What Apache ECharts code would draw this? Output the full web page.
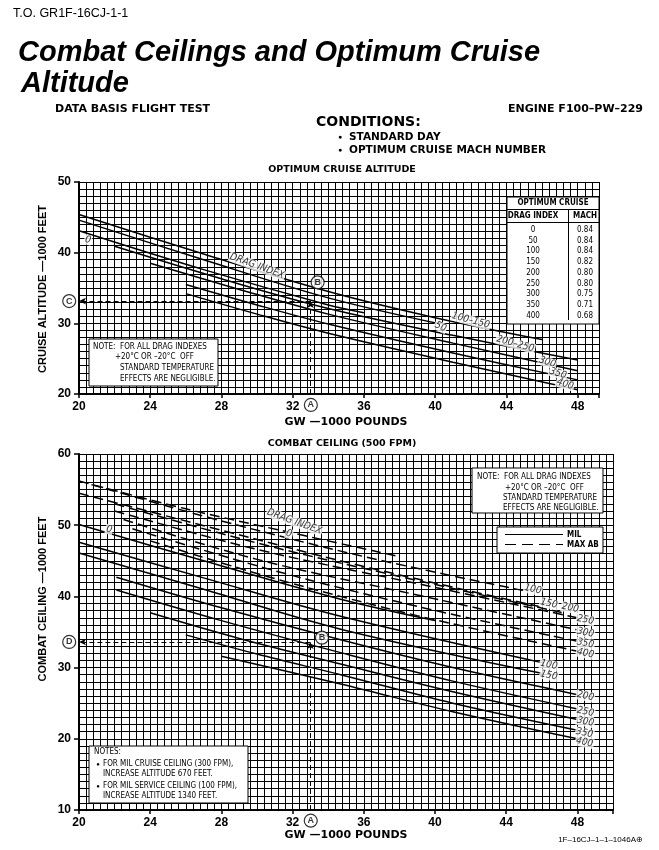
<!DOCTYPE html>
<html><head><meta charset="utf-8">
<script src="https://cdn.jsdelivr.net/npm/echarts@6/dist/echarts.min.js"></script>
<style>html,body{margin:0;padding:0;background:#fff;}#c{width:659px;height:850px;}</style>
</head><body><div id="c"></div>
<script>
// ================= DATA =================
const gwTickLabels = [20, 24, 28, 32, 36, 40, 44, 48];
const cruiseTickLabels = [20, 30, 40, 50];
const ceilingTickLabels = [10, 20, 30, 40, 50, 60];

// Optimum cruise altitude curves: [GW 1000 lb, altitude 1000 ft]
const cruiseDI100_150 = [[20,45.4],[27,39.8],[34,34.5],[40,30.8],[46,27.7]];
const cruiseDI50      = [[20,44.6],[27,39.0],[34,33.6],[40.3,29.9]];
const cruiseDI0       = [[20,43.1],[27,37.6],[34,32.6],[36,31.5]];
const cruiseDI200_250 = [[22,40.9],[28,36.3],[34,32.1],[41,28.3],[48,24.8]];
const cruiseDI300     = [[24,38.5],[29,34.8],[34,31.3],[41,27.2],[48,23.3]];
const cruiseDI350     = [[26,35.5],[30,32.6],[34,29.9],[41,25.8],[48,22.0]];
const cruiseDI400     = [[26,34.2],[30,31.3],[34,28.6],[41,24.5],[48,20.6]];

// Combat ceiling, MIL power (solid)
const milDI0   = [[20,50.1],[27,45.0],[34.7,39.6],[40,36.6]];
const milDI100 = [[20,47.6],[27,42.6],[34.7,37.2],[46,30.7]];
const milDI150 = [[20,46.1],[27,41.0],[34.7,35.4],[46,29.2]];
const milDI200 = [[22.1,42.7],[28,38.4],[34.7,33.9],[41,30.0],[48,26.2]];
const milDI250 = [[22.1,40.9],[28,36.6],[34.7,32.1],[41,28.1],[48,24.2]];
const milDI300 = [[24,37.7],[29,34.1],[34.7,30.5],[41,26.6],[48,22.7]];
const milDI350 = [[26,34.6],[30,31.9],[34.7,29.0],[41,25.0],[48,21.2]];
const milDI400 = [[28,31.6],[34.7,27.7],[41,23.8],[48,20.0]];

// Combat ceiling, MAX AB (dashed)
const abDI0   = [[20,56.2],[26,52.3],[32,48.9],[38,45.6]];
const abDI100 = [[20.7,55.7],[28,50.6],[36,45.6],[45.2,40.7]];
const abDI150 = [[20,54.5],[28,49.3],[36,44.2],[46,38.5]];
const abDI200 = [[22,53.0],[30,47.5],[38,42.8],[47.2,37.7]];
const abDI250 = [[22,52.0],[30,46.6],[39,41.8],[48,37.0]];
const abDI300 = [[22.5,50.8],[30,45.2],[39,40.2],[48,35.3]];
const abDI350 = [[23,49.5],[31,43.6],[39,38.6],[48,33.7]];
const abDI400 = [[24,47.8],[31,42.5],[39,37.3],[48,32.3]];

// Example (guide) readings
const exampleGW = 33.0;
const exampleCruiseAlt = 33.15;
const exampleCeiling = 33.6;

// Optimum cruise Mach table
const tableDragIndex = ['0','50','100','150','200','250','300','350','400'];
const tableMach      = ['0.84','0.84','0.84','0.82','0.80','0.80','0.75','0.71','0.68'];

// Curve labels: [text, GW, value, rotation]
const cruiseLabels = [
  ['0',20.5,41.8,-15],['DRAG INDEX',30.0,38.1,-20],['100\u2013150',42.0,30.4,-15],['50',40.3,29.5,-25],
  ['200\u2013250',44.5,27.1,-15],['300',46.3,24.5,-18],['350',46.9,22.9,-18],['400',47.3,21.4,-18]
];
const ceilingLabels = [
  ['0',21.7,49.4,-15],['DRAG INDEX',32.1,50.5,-20],['0',31.8,48.8,-15],
  ['100',45.5,41.0,-12],['150',46.4,39.0,-12],['200',47.6,38.4,-12],
  ['250',48.45,36.7,-12],['300',48.45,34.9,-12],['350',48.45,33.4,-12],['400',48.45,32.0,-12],
  ['100',46.4,30.4,-12],['150',46.4,28.9,-12],['200',48.45,26.0,-12],['250',48.45,23.8,-12],
  ['300',48.45,22.4,-12],['350',48.4,20.8,-12],['400',48.4,19.5,-12]
];
// Circled reference letters: [letter, GW, value]
const cruiseMarks  = [['A', 33.02, 18.45], ['B', 33.4, 35.8], ['C', 19.45, 33.15]];
const ceilingMarks = [['A', 33.02, 8.5], ['B', 33.65, 34.2], ['D', 19.45, 33.6]];

// ================= RENDER =================
const COND = "'DejaVu Sans Condensed','Liberation Sans Narrow','Roboto Condensed','Liberation Sans',sans-serif";
const SANS = "'Liberation Sans',Arial,Helvetica,sans-serif";
const WIDE = "'DejaVu Sans','Liberation Sans',sans-serif";
const chart = echarts.init(document.getElementById('c'), null, {renderer:'canvas'});

const near = (v, list) => list.some(t => Math.abs(v - t) < 1e-6);
function xAxisFor(grid, max) {
  return {
    gridIndex: grid, type:'value', min:20, max:max, interval:0.4,
    axisLine:{show:true, lineStyle:{color:'#000', width:2}}, axisTick:{show:false},
    splitLine:{show:true, lineStyle:{color:'#000', width:1}},
    axisLabel:{show:true, margin:7, color:'#000', fontFamily:SANS, fontWeight:'bold', fontSize:12,
      formatter: v => near(v, gwTickLabels) ? String(Math.round(v)) : ''}
  };
}
function xTickAxis(grid, max) {
  return {gridIndex: grid, type:'value', min:20, max:max, interval:4, position:'bottom',
    axisLine:{show:false}, splitLine:{show:false}, axisLabel:{show:false},
    axisTick:{show:true, length:4, lineStyle:{color:'#000', width:1.5}}};
}
function yAxisFor(grid, min, max, ticks) {
  return {
    gridIndex: grid, type:'value', min:min, max:max, interval:1,
    axisLine:{show:true, lineStyle:{color:'#000', width:2}}, axisTick:{show:false},
    splitLine:{show:true, lineStyle:{color:'#000', width:1}},
    axisLabel:{show:true, margin:8, color:'#000', fontFamily:SANS, fontWeight:'bold', fontSize:12,
      formatter: v => near(v, ticks) ? String(Math.round(v)) : ''}
  };
}
function yTickAxis(grid, min, max) {
  return {gridIndex: grid, type:'value', min:min, max:max, interval:10, position:'left',
    axisLine:{show:false}, splitLine:{show:false}, axisLabel:{show:false},
    axisTick:{show:true, length:5, lineStyle:{color:'#000', width:1.5}}};
}
function curve(data, gi, dashed) {
  return {type:'line', xAxisIndex:gi, yAxisIndex:gi, data:data, smooth:0.35,
    symbol:'none', silent:true, z:3, animation:false,
    lineStyle:{color:'#000', width:1.5, type: dashed ? [10,5] : 'solid'}};
}
function labelSeries(list, gi) {
  return {type:'scatter', xAxisIndex:gi, yAxisIndex:gi, symbolSize:0, silent:true, z:6, animation:false, clip:false,
    data: list.map(l => ({value:[l[1], l[2]], label:{formatter:l[0], rotate:l[3]}})),
    label:{show:true, position:'inside', color:'#000', fontFamily:COND, fontStyle:'italic', fontSize:10,
      backgroundColor:'#fff', padding:[0,1]}};
}
function circleSeries(list, gi) {
  return {type:'scatter', xAxisIndex:gi, yAxisIndex:gi, symbol:'circle', symbolSize:13, silent:true, z:8, clip:false, animation:false,
    itemStyle:{color:'#fff', borderColor:'#000', borderWidth:1.2},
    data: list.map(l => ({value:[l[1], l[2]], label:{formatter:l[0]}})),
    label:{show:true, position:'inside', color:'#000', fontFamily:SANS, fontWeight:'bold', fontSize:9}};
}
function guide(gi, gw, val, ymin) {
  return {type:'line', xAxisIndex:gi, yAxisIndex:gi, data:[], silent:true, z:4, animation:false,
    markLine:{silent:true, animation:false, symbol:['none','arrow'], symbolSize:[5,7], label:{show:false},
      lineStyle:{color:'#000', type:[5,3], width:1},
      data:[[{coord:[gw, ymin]},{coord:[gw, val]}],[{coord:[gw, val]},{coord:[20, val]}]]}};
}

const series = [];
[cruiseDI100_150, cruiseDI50, cruiseDI0, cruiseDI200_250, cruiseDI300, cruiseDI350, cruiseDI400]
  .forEach(d => series.push(curve(d, 0, false)));
[milDI0, milDI100, milDI150, milDI200, milDI250, milDI300, milDI350, milDI400]
  .forEach(d => series.push(curve(d, 1, false)));
[abDI0, abDI100, abDI150, abDI200, abDI250, abDI300, abDI350, abDI400]
  .forEach(d => series.push(curve(d, 1, true)));
series.push(labelSeries(cruiseLabels, 0));
series.push(labelSeries(ceilingLabels, 1));
series.push(guide(0, exampleGW, exampleCruiseAlt, 20));
series.push(guide(1, exampleGW, exampleCeiling, 10));
series.push(circleSeries(cruiseMarks, 0));
series.push(circleSeries(ceilingMarks, 1));

// ---------- graphic overlays ----------
const G = [];
function txt(text, x, y, font, align, extra) {
  G.push(Object.assign({type:'text', x:x, y:y, z:20, silent:true,
    style:{text:text, font:font, fill:'#000', textAlign:align||'left', textVerticalAlign:'middle'}}, extra||{}));
}
function box(x, y, w, h, z) {
  G.push({type:'rect', shape:{x:x, y:y, width:w, height:h}, z:z||10, silent:true,
    style:{fill:'#fff', stroke:'#000', lineWidth:1}});
}
function seg(x1, y1, x2, y2, dash) {
  G.push({type:'line', shape:{x1:x1, y1:y1, x2:x2, y2:y2}, z:12, silent:true,
    style:{stroke:'#000', lineWidth:1, lineDash: dash || null}});
}
// header
txt('T.O. GR1F-16CJ-1-1', 13, 14, '12.5px ' + SANS);
txt('Combat Ceilings and Optimum Cruise', 18, 53, 'italic bold 29px ' + SANS);
txt('Altitude', 21, 84, 'italic bold 29px ' + SANS);
txt('DATA BASIS FLIGHT TEST', 55, 109, 'bold 11px ' + WIDE);
txt('ENGINE F100\u2013PW\u2013229', 643, 109, 'bold 11px ' + WIDE, 'right');
txt('CONDITIONS:', 316, 122, 'bold 14px ' + WIDE);
txt('\u25CF', 340, 137, '7px ' + SANS, 'center');
txt('STANDARD DAY', 349, 137, 'bold 10.5px ' + WIDE);
txt('\u25CF', 340, 150, '7px ' + SANS, 'center');
txt('OPTIMUM CRUISE MACH NUMBER', 349, 150, 'bold 10.5px ' + WIDE);
// chart titles & axis names
txt('OPTIMUM CRUISE ALTITUDE', 342, 170, 'bold 9.5px ' + WIDE, 'center');
txt('COMBAT CEILING (500 FPM)', 342, 444, 'bold 9.5px ' + WIDE, 'center');
txt('GW \u20141000 POUNDS', 346, 422, 'bold 11px ' + WIDE, 'center');
txt('GW \u20141000 POUNDS', 346, 835, 'bold 11px ' + WIDE, 'center');
txt('CRUISE ALTITUDE \u20141000 FEET', 43, 289, 'bold 11px ' + SANS, 'center', {rotation: Math.PI/2});
txt('COMBAT CEILING \u20141000 FEET', 43, 599, 'bold 11px ' + SANS, 'center', {rotation: Math.PI/2});
txt('1F\u201316CJ\u20131\u20131\u20131046A\u2295', 643, 840, '8px ' + SANS, 'right');

// upper table
box(507, 197, 92, 127, 10);
txt('OPTIMUM CRUISE', 553, 203, 'bold 8px ' + COND, 'center');
seg(507, 209.5, 599, 209.5);
txt('DRAG INDEX', 533, 216, 'bold 8px ' + COND, 'center');
txt('MACH', 585, 216, 'bold 8px ' + COND, 'center');
seg(507, 222.5, 599, 222.5);
seg(568.5, 209.5, 568.5, 320);
tableDragIndex.forEach((d, i) => {
  txt(d, 533, 230 + i * 10.7, '8px ' + COND, 'center');
  txt(tableMach[i], 585, 230 + i * 10.7, '8px ' + COND, 'center');
});
// upper note
box(89, 339, 129, 47, 10);
txt('NOTE:  FOR ALL DRAG INDEXES', 93, 347, '8px ' + COND);
txt('+20\u00B0C OR \u201320\u00B0C  OFF', 115, 357, '8px ' + COND);
txt('STANDARD TEMPERATURE', 120, 368, '8px ' + COND);
txt('EFFECTS ARE NEGLIGIBLE.', 120, 379, '8px ' + COND);
// lower note
box(472, 468, 131, 45, 10);
txt('NOTE:  FOR ALL DRAG INDEXES', 477, 477, '8px ' + COND);
txt('+20\u00B0C OR \u201320\u00B0C  OFF', 505, 488, '8px ' + COND);
txt('STANDARD TEMPERATURE', 503, 498, '8px ' + COND);
txt('EFFECTS ARE NEGLIGIBLE.', 503, 508, '8px ' + COND);
// legend
box(497, 527, 106, 26, 10);
seg(505, 534.5, 563, 534.5);
txt('MIL', 567, 534.5, 'bold 8px ' + COND);
seg(505, 544.5, 563, 544.5, [11, 6]);
txt('MAX AB', 567, 544.5, 'bold 8px ' + COND);
// lower notes
box(89, 746, 159, 57, 10);
txt('NOTES:', 94, 752, '8px ' + COND);
txt('\u25CF', 98, 764, '6px ' + SANS, 'center');
txt('FOR MIL CRUISE CEILING (300 FPM),', 103, 764, '8px ' + COND);
txt('INCREASE ALTITUDE 670 FEET.', 103, 774, '8px ' + COND);
txt('\u25CF', 98, 786, '6px ' + SANS, 'center');
txt('FOR MIL SERVICE CEILING (100 FPM),', 103, 786, '8px ' + COND);
txt('INCREASE ALTITUDE 1340 FEET.', 103, 796, '8px ' + COND);

chart.setOption({
  animation:false,
  backgroundColor:'#fff',
  grid:[
    {left:79, top:182, width:520, height:212, outerBoundsMode:'none', containLabel:false},
    {left:79, top:454, width:534, height:356, outerBoundsMode:'none', containLabel:false}
  ],
  xAxis:[xAxisFor(0, 49.2), xAxisFor(1, 50), xTickAxis(0, 49.2), xTickAxis(1, 50)],
  yAxis:[yAxisFor(0, 20, 50, cruiseTickLabels), yAxisFor(1, 10, 60, ceilingTickLabels),
         yTickAxis(0, 20, 50), yTickAxis(1, 10, 60)],
  series: series,
  graphic: G
});
</script></body></html>
